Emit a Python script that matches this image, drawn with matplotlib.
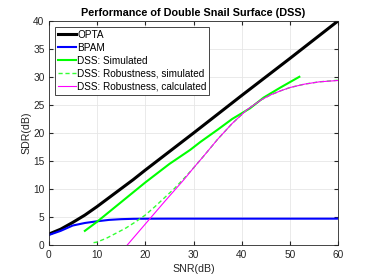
import matplotlib
matplotlib.use('Agg')
import matplotlib.pyplot as plt

plt.rcParams['font.family'] = ['Liberation Sans', 'DejaVu Sans']

# values
snr_opta = [0, 2.5, 5, 7.5, 10, 12.5, 15, 17.5, 20, 25, 30, 40, 50, 60]
sdr_opta = [2.0, 2.9, 4.1, 5.4, 6.9, 8.5, 10.1, 11.7, 13.4, 16.7, 20.0, 26.7, 33.3, 40.0]

snr_bpam = [0, 2.5, 5, 7.5, 10, 12.5, 15, 17.5, 20, 25, 30, 40, 50, 60]
sdr_bpam = [1.85, 2.6, 3.55, 4.0, 4.3, 4.55, 4.68, 4.74, 4.76, 4.77, 4.77, 4.77, 4.77, 4.77]

snr_dss = [7.5, 10, 15, 20, 25, 29.3, 31.4, 35, 38, 41.7, 44.5, 48, 51.9]
sdr_dss = [2.6, 4.2, 7.7, 11.2, 14.5, 17.0, 18.4, 20.6, 22.5, 24.4, 26.3, 28.1, 30.0]

snr_rob_sim = [9.3, 10, 12, 14, 16, 18, 20, 22, 24, 26, 28, 30, 32, 35, 38, 41, 44, 46, 48, 50, 53, 56, 60]
sdr_rob_sim = [0.5, 0.6, 1.3, 2.2, 3.1, 4.2, 5.4, 6.9, 8.5, 10.1, 11.9, 13.8, 15.8, 18.9, 21.7, 24.1, 25.9, 26.8, 27.5, 28.1, 28.7, 29.1, 29.4]

snr_rob_calc = [16.2, 20, 24, 28, 30, 32, 35, 38, 41, 44, 46, 48, 50, 53, 56, 60]
sdr_rob_calc = [0.0, 3.8, 7.8, 11.7, 13.8, 15.8, 18.9, 21.7, 24.1, 25.9, 26.8, 27.5, 28.1, 28.7, 29.1, 29.35]

fig = plt.figure(figsize=(3.74, 2.78), dpi=100)
ax = fig.add_axes([0.130, 0.117, 0.775, 0.809])

ax.plot(snr_opta, sdr_opta, color='black', lw=2.2, label='OPTA')
ax.plot(snr_bpam, sdr_bpam, color='blue', lw=1.5, label='BPAM')
ax.plot(snr_dss, sdr_dss, color=(0, 1, 0), lw=1.5, label='DSS: Simulated')
ax.plot(snr_rob_sim, sdr_rob_sim, color=(0.2, 1, 0.2), lw=1.0, ls=(0, (3, 2)),
        label='DSS: Robustness, simulated')
ax.plot(snr_rob_calc, sdr_rob_calc, color=(1, 0, 1), lw=0.8,
        label='DSS: Robustness, calculated')

ax.set_xlim(0, 60)
ax.set_ylim(0, 40)
ax.set_xticks(range(0, 61, 10))
ax.set_yticks(range(0, 41, 5))
ax.grid(True, color='#e6e6e6', lw=0.6)
ax.set_axisbelow(True)
ax.tick_params(direction='in', length=3, labelsize=7.3, colors='#262626',
               top=True, right=True, pad=3)
for s in ax.spines.values():
    s.set_color('#262626')
    s.set_linewidth(0.6)

ax.set_xlabel('SNR(dB)', fontsize=7.7, color='#262626', labelpad=3)
ax.set_ylabel('SDR(dB)', fontsize=7.7, color='#262626', labelpad=1)
ax.set_title('Performance of Double Snail Surface (DSS)', fontsize=7.8,
             fontweight='bold', pad=3)

leg = ax.legend(loc='upper left', fontsize=7.2, handlelength=1.8,
                handletextpad=0.15, borderaxespad=0.6, labelspacing=0.3,
                fancybox=False, framealpha=1, edgecolor='#262626',
                borderpad=0.3)
leg.get_frame().set_linewidth(0.6)

fig.savefig('out.png', dpi=100)
